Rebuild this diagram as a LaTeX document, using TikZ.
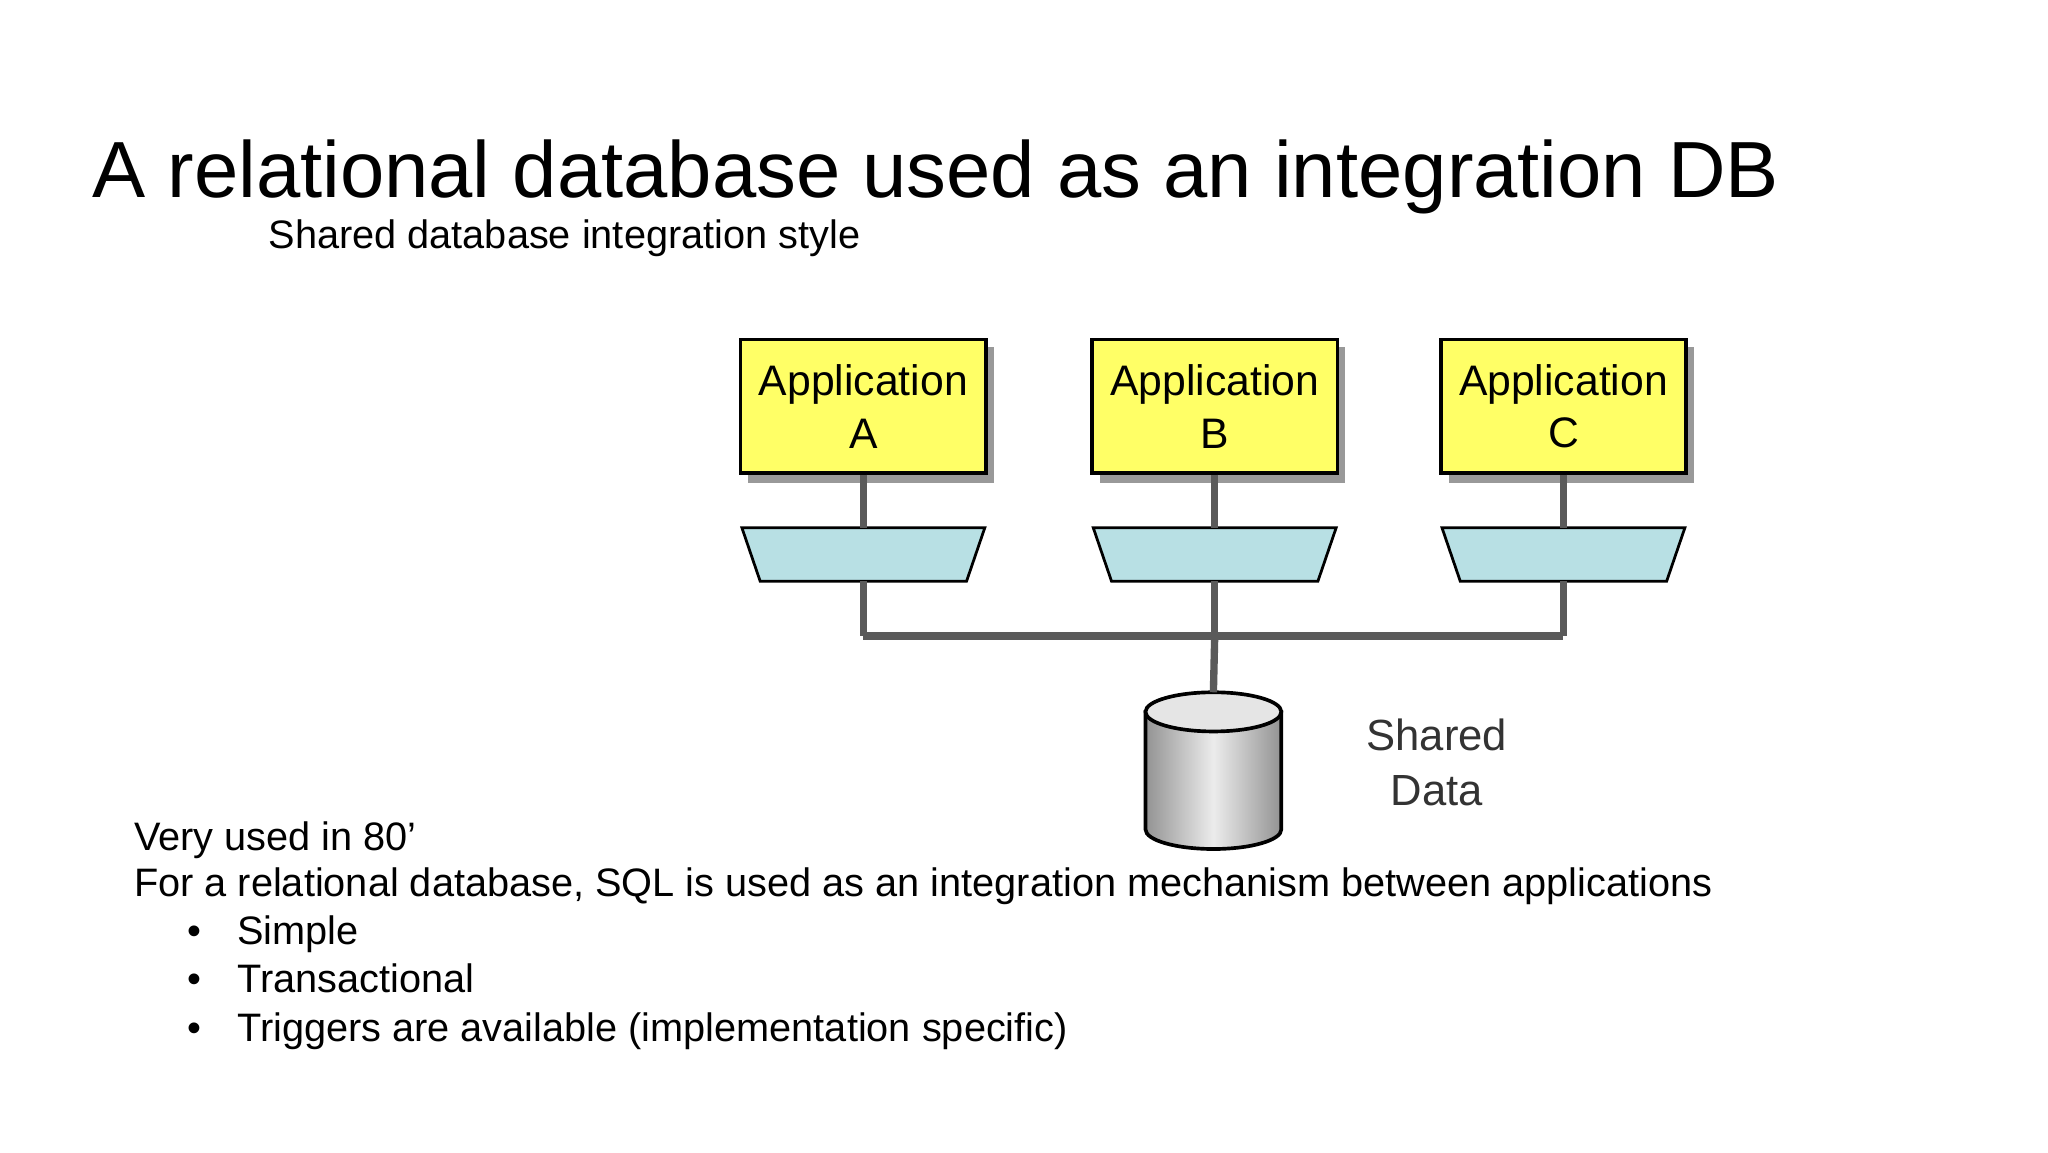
\documentclass[tikz,border=0pt]{standalone}
\usepackage{fontspec}
\setmainfont{Liberation Sans}
\usetikzlibrary{positioning}
\definecolor{appyellow}{RGB}{255,255,102}
\definecolor{adapterblue}{RGB}{184,224,228}
\definecolor{linegrey}{RGB}{90,90,90}

\begin{document}
\begin{tikzpicture}[
  app/.style={draw=black,line width=0.8pt,fill=appyellow,minimum width=1.88cm,minimum height=1.02cm,
    inner sep=0pt,align=center,font=\fontsize{9.3pt}{11.5pt}\selectfont},
  adapter/.style={draw=black,line width=0.6pt,fill=adapterblue},
  wire/.style={linegrey,line width=1.6pt},
  body/.style={font=\fontsize{8.65pt}{10pt}\selectfont,anchor=base west,inner sep=0pt}]
  \useasboundingbox (0,0) rectangle (15.68,-8.82);

  % Title and subtitle
  \node[anchor=base west,font=\fontsize{17.35pt}{21pt}\selectfont,inner sep=0pt] (title) at (0.70,-1.51) {A relational database used as an integration DB};
  \node[body] (subtitle) at (2.05,-1.90) {Shared database integration style};

  % Applications, adapters
  \foreach \name/\x in {A/6.61,B/9.30,C/11.97}{
    \fill[gray!80] (\x-0.88,-2.66) rectangle (\x+1.00,-3.70);
    \node[app] (app\name) at (\x,-3.11) {Application\\\name};
    \filldraw[adapter] (\x-0.93,-4.04) -- (\x+0.93,-4.04) -- (\x+0.79,-4.45) -- (\x-0.79,-4.45) -- cycle;
    \coordinate (adT\name) at (\x,-4.04);
    \coordinate (adB\name) at (\x,-4.45);
    \coordinate (bus\name) at (\x,-4.87);
  }

  % Shared data cylinder
  \shade[left color=gray!85,right color=gray!85,middle color=gray!15,draw=black,line width=0.8pt]
    (8.77,-5.45) -- (8.77,-6.35) arc (180:360:0.52 and 0.15) -- (9.81,-5.45) -- cycle;
  \filldraw[fill=gray!20,draw=black,line width=0.8pt] (9.29,-5.45) ellipse (0.52 and 0.15);
  \coordinate (db) at (9.29,-5.30);
  \node[align=center,font=\fontsize{9.5pt}{12pt}\selectfont,text=black!80] (label) at (11.00,-5.84) {Shared\\Data};

  % Connectors
  \foreach \name in {A,B,C}{
    \draw[wire] (app\name.south) -- (adT\name);
    \draw[wire] (adB\name) -- (bus\name);
  }
  \draw[wire] (busA) -- (busC);
  \draw[wire] (busB) -- (db);

  % Notes
  \node[body] (n1) at (1.02,-6.51) {Very used in 80’};
  \node[body] (n2) at (1.02,-6.86) {For a relational database, SQL is used as an integration mechanism between applications};
  \foreach \y/\t in {7.23/Simple,7.60/Transactional,7.97/Triggers are available (implementation specific)}{
    \node[body] at (1.43,-\y) {•};
    \node[body] at (1.81,-\y) {\t};
  }
\end{tikzpicture}
\end{document}
